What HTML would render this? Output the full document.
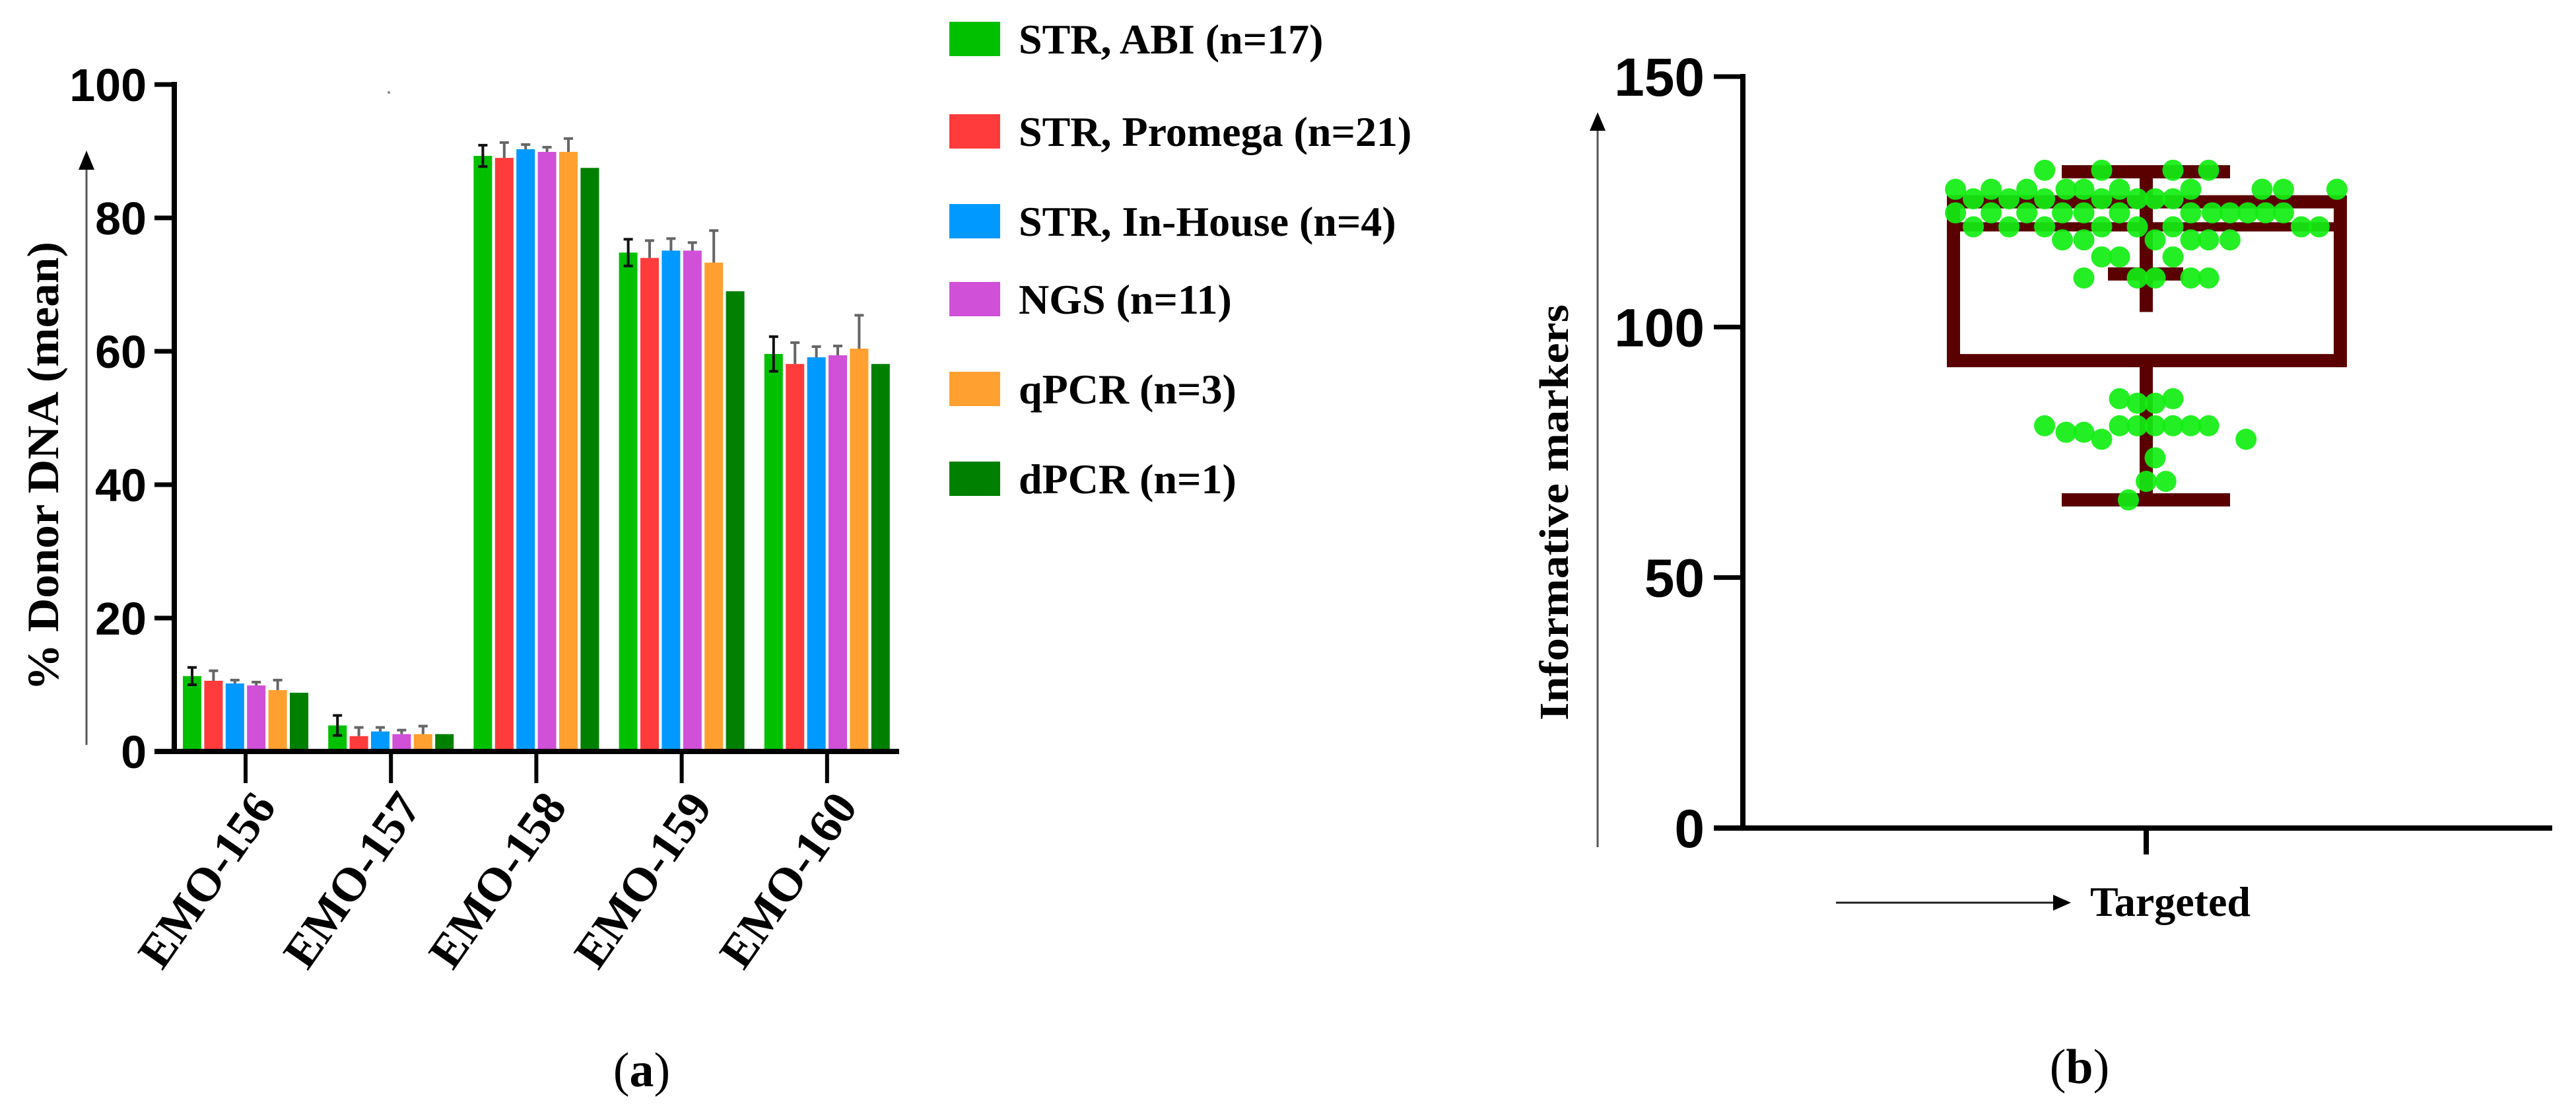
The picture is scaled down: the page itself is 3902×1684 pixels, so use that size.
<!DOCTYPE html>
<html><head><meta charset="utf-8">
<style>
html,body{margin:0;padding:0;background:#fff;}
svg{display:block;}
.tk{font-family:"Liberation Sans",Arial,sans-serif;font-weight:bold;}
.tm{font-family:"Liberation Serif","Times New Roman",serif;font-weight:bold;}
</style></head>
<body>
<svg id="fig" width="3902" height="1684" viewBox="0 0 3902 1684" xmlns="http://www.w3.org/2000/svg">
<g id="pa"></g>
<g id="pb"></g>
<text x="972" y="1645" font-size="74" text-anchor="middle" font-family="Liberation Serif,serif">(<tspan font-weight="bold">a</tspan>)</text>
<text x="3150" y="1640" font-size="74" text-anchor="middle" font-family="Liberation Serif,serif">(<tspan font-weight="bold">b</tspan>)</text>
</svg>
<script>
// ---- Panel A data ----
const categories = ["EMO-156","EMO-157","EMO-158","EMO-159","EMO-160"];
const seriesNames = ["STR, ABI (n=17)","STR, Promega (n=21)","STR, In-House (n=4)","NGS (n=11)","qPCR (n=3)","dPCR (n=1)"];
const seriesColors = ["#00c000","#ff3b3b","#0099ff","#d050d8","#ffa030","#008000"];
const abiVals     = [11.3, 3.9, 89.3, 74.8, 59.6];
const promegaVals = [10.6, 2.3, 89.0, 74.0, 58.1];
const inhouseVals = [10.2, 3.0, 90.3, 75.1, 59.1];
const ngsVals     = [ 9.9, 2.6, 89.9, 75.1, 59.4];
const qpcrVals    = [ 9.2, 2.6, 89.9, 73.3, 60.4];
const dpcrVals    = [ 8.8, 2.6, 87.5, 69.0, 58.1];
const abiErr     = [1.3, 1.5, 1.6, 2.0, 2.6];
const promegaErr = [1.5, 1.3, 2.3, 2.6, 3.2];
const inhouseErr = [0.5, 0.6, 0.7, 1.8, 1.6];
const ngsErr     = [0.5, 0.6, 0.7, 1.2, 1.4];
const qpcrErr    = [1.5, 1.2, 2.0, 4.8, 5.0];
const dpcrErr    = [0, 0, 0, 0, 0];
const yTicksA = [0,20,40,60,80,100];
// ---- Panel B data ----
const markerValues = [131.3,131.3,131.3,131.3,
 127.5,127.5,127.5,127.5,127.5,127.5,127.5,127.5,127.5,127.5,
 125.6,125.6,125.6,125.6,125.6,125.6,125.6,
 122.8,122.8,122.8,122.8,122.8,122.8,122.8,122.8,122.8,122.8,122.8,122.8,
 120.0,120.0,120.0,120.0,120.0,120.0,120.0,120.0,
 117.4,117.4,117.4,117.4,117.4,117.4,
 114.0,114.0,114.0,
 109.8,109.8,109.8,109.8,109.8,
 85.7,85.7,84.8,84.8,
 80.3,80.3,80.3,80.3,80.3,80.3,80.3,
 79.0,79.0,77.6,77.6,73.9,69.2,69.2,65.5];
const markerJitter = [-5.7,-2.5,1.5,3.5,
 -10.7,-8.7,-6.7,-4.5,-3.5,-1.5,2.5,6.5,7.7,10.7,
 -9.7,-7.7,-5.7,-2.5,-0.5,0.5,1.5,
 -10.7,-8.7,-6.7,-4.7,-3.5,-1.5,2.5,3.7,4.7,5.7,6.7,7.7,
 -9.7,-7.7,-5.7,-2.5,-0.5,1.5,8.7,9.7,
 -4.7,-3.5,0.5,2.5,3.5,4.7,
 -2.5,-1.5,1.5,
 -3.5,-0.5,0.5,2.5,3.5,
 -1.5,1.5,-0.5,0.5,
 -5.7,-1.5,-0.5,0.5,1.5,2.5,3.5,
 -4.5,-3.5,-2.5,5.6,0.5,0,1.1,-1.0];
const boxStats = {min:65.5, q1:93.3, median:120.0, q3:125.0, max:131.0};
const innerWhisker = {top:131.0, cap:110.6, bottom:103.0};
const yTicksB = [0,50,100,150];

const NS="http://www.w3.org/2000/svg";
function mk(parent, tag, attrs){const e=document.createElementNS(NS,tag);for(const k in attrs)e.setAttribute(k,attrs[k]);parent.appendChild(e);return e;}

// ---- Panel A ----
const pa=document.getElementById('pa');
const yA=v=>1138-v*10.1;
const xCat=i=>372+220.2*i;
const allVals=[abiVals,promegaVals,inhouseVals,ngsVals,qpcrVals,dpcrVals];
const allErr=[abiErr,promegaErr,inhouseErr,ngsErr,qpcrErr,dpcrErr];
const pitch=32.4, bw=28;
categories.forEach((c,i)=>{
  allVals.forEach((vals,s)=>{
    const cx=xCat(i)+(s-2.5)*pitch;
    const r=mk(pa,'rect',{x:cx-bw/2,y:yA(vals[i]),width:bw,height:yA(0)-yA(vals[i]),fill:seriesColors[s]});
    
    
    const e=allErr[s][i];
    if(e>0){
      const lo = s===0 ? vals[i]-e : vals[i];
      const col = s===0 ? '#111' : '#666';
      const g=mk(pa,'g',{stroke:col,'stroke-width':4});
      
      
      mk(g,'line',{x1:cx,x2:cx,y1:yA(lo),y2:yA(vals[i]+e)});
      mk(g,'line',{x1:cx-7,x2:cx+7,y1:yA(vals[i]+e),y2:yA(vals[i]+e)});
      if(s===0) mk(g,'line',{x1:cx-7,x2:cx+7,y1:yA(lo),y2:yA(lo)});
    }
  });
  const t=mk(pa,'line',{x1:xCat(i),x2:xCat(i),y1:1138,y2:1186,stroke:'#000','stroke-width':6});
  
  
  const ax=xCat(i)+48, ay=1222;
  const lb=mk(pa,'text',{x:ax,y:ay,'text-anchor':'end','font-size':72,class:'tm',transform:`rotate(-55 ${ax} ${ay})`});
  lb.textContent=c;
  
  
});
let axA=mk(pa,'path',{d:'M264 124 V1138 M234 1138 H1362',stroke:'#000','stroke-width':8,fill:'none'});


yTicksA.forEach(v=>{
  mk(pa,'line',{x1:234,x2:264,y1:yA(v),y2:yA(v),stroke:'#000','stroke-width':7});
  const t=mk(pa,'text',{x:222,y:yA(v)+25,'text-anchor':'end','font-size':70,class:'tk'});
  t.textContent=v;
  
  
});
mk(pa,'line',{x1:131,x2:131,y1:1128,y2:255,stroke:'#555','stroke-width':3});
mk(pa,'path',{d:'M119 257 L131 228 L143 257 Z',fill:'#000'});
let yt=mk(pa,'text',{x:88,y:706,'text-anchor':'middle','font-size':68,class:'tm',transform:'rotate(-90 88 706)',textLength:680,lengthAdjust:'spacingAndGlyphs'});
yt.textContent='% Donor DNA (mean)';


mk(pa,'circle',{cx:589,cy:140,r:2,fill:'#888'});
// legend
const legY=[59,199,335,453,589,725];
seriesNames.forEach((n,s)=>{
  const g=mk(pa,'g',{});
  
  
  mk(g,'rect',{x:1438,y:legY[s]-26,width:77,height:52,fill:seriesColors[s]});
  const t=mk(g,'text',{x:1543,y:legY[s]+22,'font-size':64,class:'tm'});
  t.textContent=n;
});

// ---- Panel B ----
const pb=document.getElementById('pb');
const yB=v=>1254-v*7.587;
const cxB=3251;
const bx=mk(pb,'g',{stroke:'#5a0000','stroke-width':20,fill:'none'});


mk(bx,'rect',{x:2959,y:yB(boxStats.q3),width:586,height:yB(boxStats.q1)-yB(boxStats.q3)});
mk(bx,'line',{x1:2959,x2:3545,y1:yB(boxStats.median),y2:yB(boxStats.median),'stroke-width':14});
mk(bx,'line',{x1:cxB,x2:cxB,y1:yB(boxStats.q1),y2:yB(boxStats.min)});
mk(bx,'line',{x1:3123,x2:3378,y1:yB(boxStats.min),y2:yB(boxStats.min)});
mk(bx,'line',{x1:cxB,x2:cxB,y1:yB(innerWhisker.top),y2:yB(innerWhisker.bottom)});
mk(bx,'line',{x1:3123,x2:3378,y1:yB(boxStats.max),y2:yB(boxStats.max)});
mk(bx,'line',{x1:3193,x2:3307,y1:yB(innerWhisker.cap),y2:yB(innerWhisker.cap)});
markerValues.forEach((v,i)=>{
  const c=mk(pb,'circle',{cx:cxB+markerJitter[i]*27,cy:yB(v),r:16,fill:'#11ee11','fill-opacity':0.92});
  
  
});
let axB=mk(pb,'path',{d:'M2640 112 V1254 M2596 1254 H3866 M3251 1254 V1294',stroke:'#000','stroke-width':8,fill:'none'});


yTicksB.forEach(v=>{
  mk(pb,'line',{x1:2596,x2:2640,y1:yB(v),y2:yB(v),stroke:'#000','stroke-width':7});
  const t=mk(pb,'text',{x:2582,y:yB(v)+29,'text-anchor':'end','font-size':82,class:'tk'});
  t.textContent=v;
  
  
});
mk(pb,'line',{x1:2420,x2:2420,y1:1283,y2:195,stroke:'#555','stroke-width':3});
mk(pb,'path',{d:'M2408 198 L2420 170 L2432 198 Z',fill:'#000'});
let ytb=mk(pb,'text',{x:2375,y:776,'text-anchor':'middle','font-size':62,class:'tm',transform:'rotate(-90 2375 776)',textLength:630,lengthAdjust:'spacingAndGlyphs'});
ytb.textContent='Informative  markers';


mk(pb,'line',{x1:2781,x2:3112,y1:1367,y2:1367,stroke:'#222','stroke-width':3});
mk(pb,'path',{d:'M3110 1355 L3137 1367 L3110 1379 Z',fill:'#000'});
let xtb=mk(pb,'text',{x:3166,y:1387,'font-size':64,class:'tm'});
xtb.textContent='Targeted';


</script>
</body></html>
